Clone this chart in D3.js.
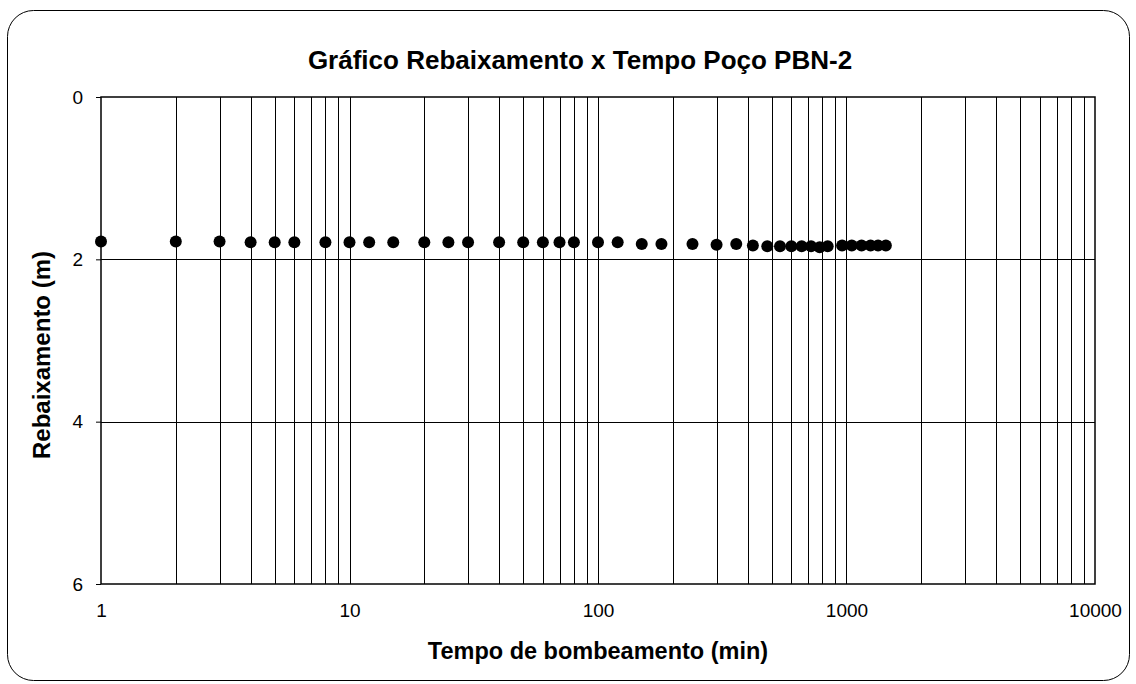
<!DOCTYPE html>
<html>
<head>
<meta charset="utf-8">
<script src="https://cdn.jsdelivr.net/npm/d3@7"></script>
<style>
  html, body { margin: 0; padding: 0; background: #fff; }
  svg { display: block; font-family: "Liberation Sans", Arial, sans-serif; }
</style>
</head>
<body>
<svg id="chart" width="1136" height="684"></svg>
<script>
// Pumping test data: elapsed time (min) and drawdown (m)
const tempo = [1, 2, 3, 4, 5, 6, 8, 10, 12, 15, 20, 25, 30, 40, 50, 60, 70, 80,
  100, 120, 150, 180, 240, 300, 360, 420, 480, 540, 600, 660, 720, 780, 840,
  960, 1050, 1150, 1250, 1340, 1440];
const rebaixamento = [1.78, 1.78, 1.78, 1.79, 1.79, 1.79, 1.79, 1.79, 1.79, 1.79, 1.79, 1.79, 1.79, 1.79, 1.79, 1.79, 1.79, 1.79,
  1.79, 1.79, 1.81, 1.81, 1.81, 1.82, 1.81, 1.83, 1.84, 1.84, 1.84, 1.84, 1.84, 1.85, 1.84,
  1.83, 1.83, 1.83, 1.83, 1.83, 1.83];
const xTicks = [1, 10, 100, 1000, 10000];
const yTicks = [0, 2, 4, 6];

const svg = d3.select("#chart");
const m = { left: 101, top: 97, right: 1095, bottom: 584 };
const FONT = "Liberation Sans, Arial, sans-serif";

// Outer frame with rounded corners
svg.append("rect")
  .attr("x", 7.5).attr("y", 10.5)
  .attr("width", 1122).attr("height", 670)
  .attr("rx", 26).attr("ry", 26)
  .attr("fill", "#fff").attr("stroke", "#000").attr("stroke-width", 1);

const x = d3.scaleLog().domain([1, 10000]).range([m.left, m.right]);
const y = d3.scaleLinear().domain([0, 6]).range([m.top, m.bottom]);

// Vertical grid lines at every log step (1..9 per decade)
const gridX = [];
for (let d = 1; d < 10000; d *= 10) for (let k = 1; k < 10; k++) gridX.push(d * k);
svg.append("g").selectAll("line").data(gridX.filter(v => v > 1)).join("line")
  .attr("x1", d => Math.round(x(d)) + 0.5).attr("x2", d => Math.round(x(d)) + 0.5)
  .attr("y1", m.top).attr("y2", m.bottom)
  .attr("stroke", "#000").attr("stroke-width", 1);

// Horizontal grid lines
svg.append("g").selectAll("line").data(yTicks.filter(v => v > 0 && v < 6)).join("line")
  .attr("x1", m.left).attr("x2", m.right)
  .attr("y1", d => Math.round(y(d)) + 0.5).attr("y2", d => Math.round(y(d)) + 0.5)
  .attr("stroke", "#000").attr("stroke-width", 1);

// Plot area border
svg.append("rect")
  .attr("x", m.left).attr("y", m.top)
  .attr("width", m.right - m.left).attr("height", m.bottom - m.top)
  .attr("fill", "none").attr("stroke", "#000").attr("stroke-width", 1.5);

// Y axis ticks and labels
const yAxis = d3.axisLeft(y).tickValues(yTicks).tickSize(5).tickPadding(13).tickFormat(d3.format("d"));
const gy = svg.append("g").attr("transform", `translate(${m.left},0)`).call(yAxis);
gy.select(".domain").remove();
gy.selectAll(".tick line").attr("stroke", "#000");
gy.selectAll("text").attr("font-size", 19).attr("fill", "#000").attr("font-family", FONT);

// X axis labels
const xAxis = d3.axisBottom(x).tickValues(xTicks).tickSize(0).tickPadding(20).tickFormat(d3.format("d"));
const gx = svg.append("g").attr("transform", `translate(0,${m.bottom})`).call(xAxis);
gx.select(".domain").remove();
gx.selectAll("text").attr("font-size", 19).attr("fill", "#000").attr("font-family", FONT);

// Data points
svg.append("g").selectAll("circle").data(tempo).join("circle")
  .attr("cx", d => x(d))
  .attr("cy", (d, i) => y(rebaixamento[i]))
  .attr("r", 6)
  .attr("fill", "#000");

// Titles
svg.append("text")
  .attr("x", 580).attr("y", 69)
  .attr("text-anchor", "middle")
  .attr("font-size", 26).attr("font-weight", "bold")
  .text("Gráfico Rebaixamento x Tempo Poço PBN-2");

svg.append("text")
  .attr("x", 598).attr("y", 659)
  .attr("text-anchor", "middle")
  .attr("font-size", 23.5).attr("font-weight", "bold")
  .text("Tempo de bombeamento (min)");

svg.append("text")
  .attr("transform", "translate(50,355) rotate(-90)")
  .attr("text-anchor", "middle")
  .attr("font-size", 24).attr("font-weight", "bold")
  .text("Rebaixamento (m)");
</script>
</body>
</html>
